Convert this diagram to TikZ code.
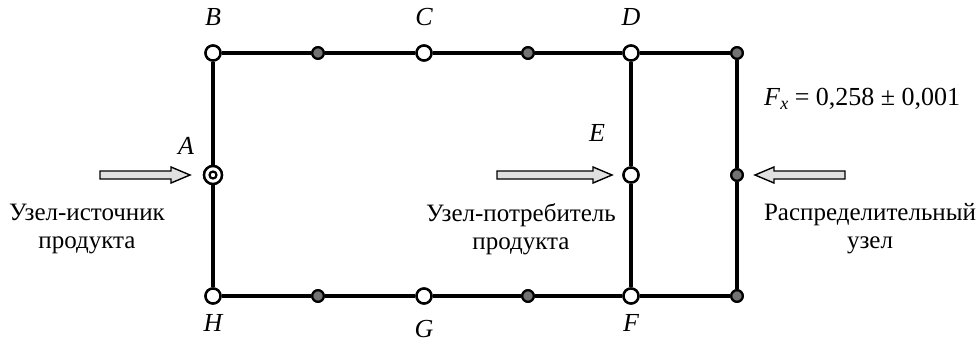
\documentclass[tikz,border=0pt]{standalone}
\usepackage{fontspec}
\setmainfont{Liberation Serif}
\begin{document}
\begin{tikzpicture}[x=1pt,y=-1pt,
  wire/.style={line width=3.8pt},
  opennode/.style={circle,draw,line width=2.4pt,fill=white,minimum size=15pt,inner sep=0pt},
  graynode/.style={circle,draw,line width=2.2pt,fill=black!55,minimum size=11.5pt,inner sep=0pt},
  srcnode/.style={circle,draw,line width=2.4pt,fill=white,minimum size=18pt,inner sep=0pt},
  srcinner/.style={circle,draw,line width=2.2pt,minimum size=7pt,inner sep=0pt},
  lbl/.style={font=\fontsize{26}{28}\selectfont\itshape,inner sep=0pt},
  txt/.style={font=\fontsize{25}{28}\selectfont,align=center,inner sep=0pt},
  harrow/.style={draw,line width=1.4pt,fill=black!12}
]
\useasboundingbox (0,0) rectangle (979,343);
% nodes
\node[opennode] (B) at (213,53) {};
\node[graynode] (b1) at (318,53) {};
\node[opennode] (C) at (424,53) {};
\node[graynode] (c1) at (528,53) {};
\node[opennode] (D) at (631,53) {};
\node[graynode] (R1) at (737,53) {};
\node[opennode] (E) at (631,175) {};
\node[graynode] (R2) at (737,175) {};
\node[opennode] (H) at (213,296) {};
\node[graynode] (h1) at (318,296) {};
\node[opennode] (G) at (424,296) {};
\node[graynode] (g1) at (528,296) {};
\node[opennode] (F) at (631,296) {};
\node[graynode] (R3) at (737,296) {};
\node[srcnode] (A) at (213,175) {};
% wires
\draw[wire] (B) -- (b1) -- (C) -- (c1) -- (D) -- (R1) -- (R2) -- (R3) -- (F) -- (g1) -- (G) -- (h1) -- (H) -- (A) -- (B);
\draw[wire] (D) -- (E) -- (F);
% redraw nodes on top of the wires
\foreach \p in {{213,53},{424,53},{631,53},{631,175},{213,296},{424,296},{631,296}}{
  \node[opennode] at (\p) {};
}
\foreach \p in {{318,53},{528,53},{737,53},{737,175},{318,296},{528,296},{737,296}}{
  \node[graynode] at (\p) {};
}
\node[srcnode] at (213,175) {};
\node[srcinner] (Ai) at (213,175) {};
% labels
\node[lbl] (lB) at (213,17) {B};
\node[lbl] (lC) at (424,17) {C};
\node[lbl] (lD) at (631,17) {D};
\node[lbl] (lA) at (186,146) {A};
\node[lbl] (lE) at (597,133) {E};
\node[lbl] (lH) at (213,323) {H};
\node[lbl] (lG) at (424,329) {G};
\node[lbl] (lF) at (631,323) {F};
\node[font=\fontsize{26}{28}\selectfont,anchor=west,inner sep=0pt] (fx) at (764,99) {\textit{F}\raisebox{-0.35ex}{\fontsize{18}{20}\selectfont\textit{x}} = 0,258 ± 0,001};
% texts
\node[txt] (t1) at (87,229) {Узел-источник\\продукта};
\node[txt] (t2) at (521,229) {Узел-потребитель\\продукта};
\node[txt] (t3) at (870,229) {Распределительный\\узел};
% hollow arrows
\draw[harrow] (100,171) -- (171,171) -- (171,167) -- (190,175) -- (171,183) -- (171,179) -- (100,179) -- cycle;
\draw[harrow] (497,171) -- (593,171) -- (593,167) -- (612,175) -- (593,183) -- (593,179) -- (497,179) -- cycle;
\draw[harrow] (845,171) -- (774,171) -- (774,167) -- (755,175) -- (774,183) -- (774,179) -- (845,179) -- cycle;
\end{tikzpicture}
\end{document}
